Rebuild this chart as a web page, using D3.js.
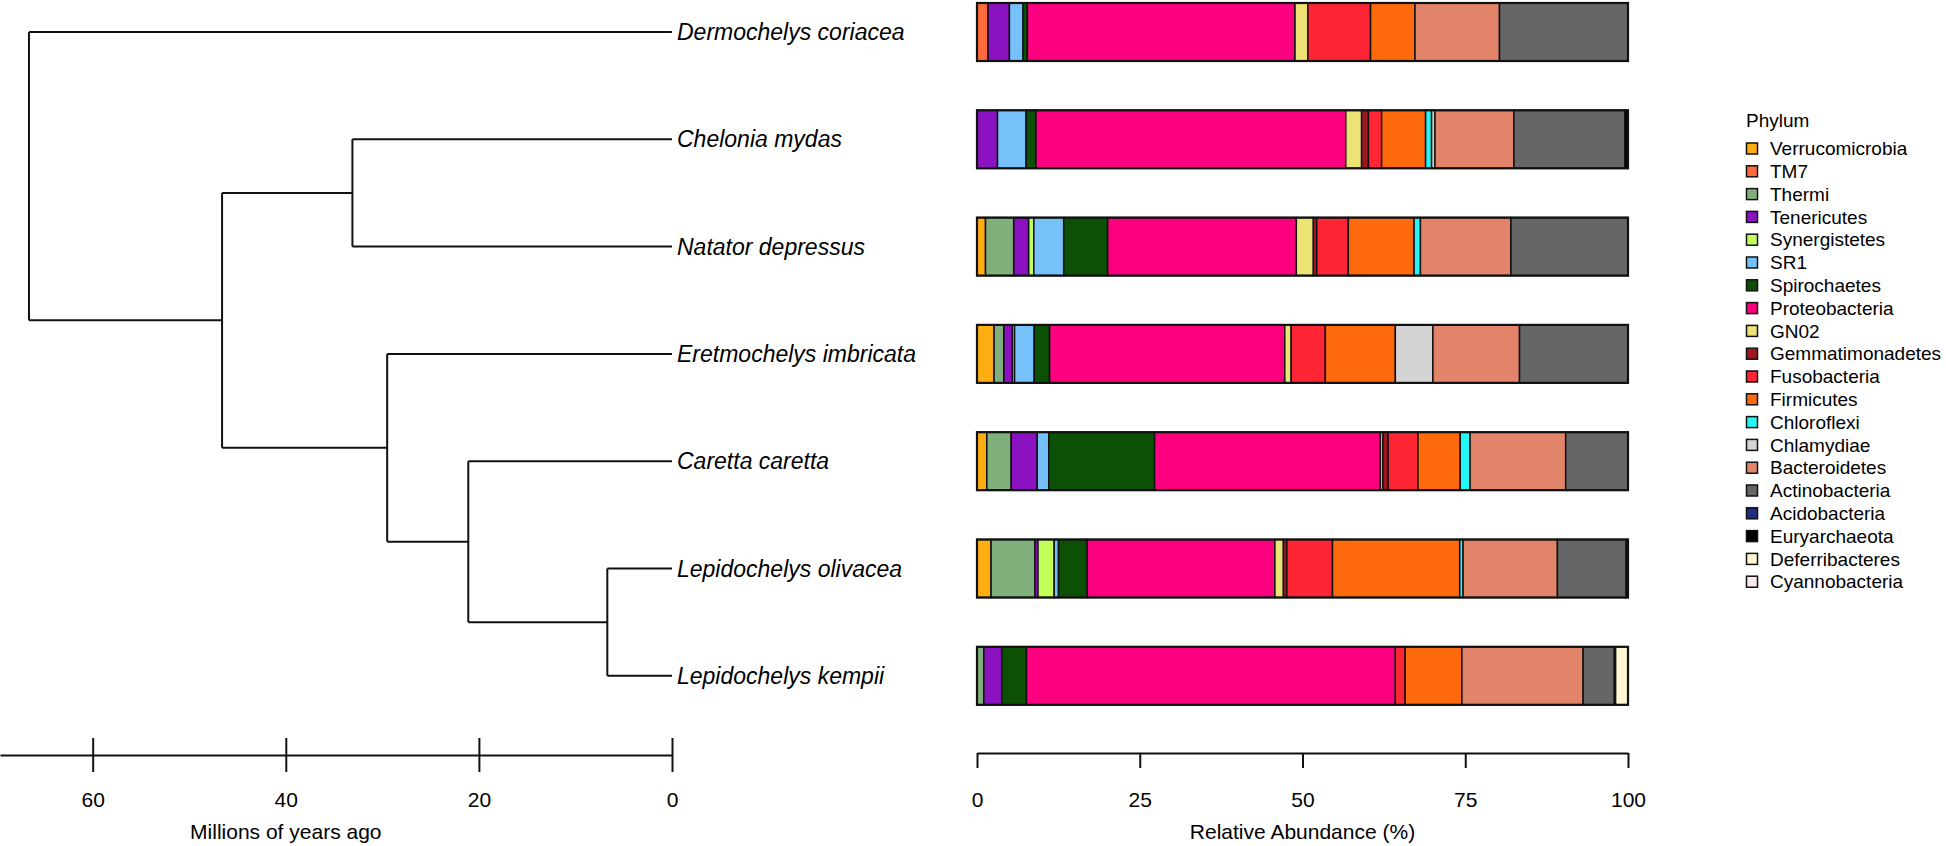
<!DOCTYPE html>
<html>
<head>
<meta charset="utf-8">
<script src="https://cdn.jsdelivr.net/npm/d3@7"></script>
<style>
  html, body { margin: 0; padding: 0; background: #ffffff; }
  svg { display: block; font-family: "Liberation Sans", Arial, Helvetica, sans-serif; }
</style>
</head>
<body>
<svg id="chart" width="1946" height="846"></svg>
<script>
// ---------------- DATA ----------------
const species = [
  "Dermochelys coriacea",
  "Chelonia mydas",
  "Natator depressus",
  "Eretmochelys imbricata",
  "Caretta caretta",
  "Lepidochelys olivacea",
  "Lepidochelys kempii"
];

const phyla = [
  "Verrucomicrobia", "TM7", "Thermi", "Tenericutes", "Synergistetes", "SR1",
  "Spirochaetes", "Proteobacteria", "GN02", "Gemmatimonadetes", "Fusobacteria",
  "Firmicutes", "Chloroflexi", "Chlamydiae", "Bacteroidetes", "Actinobacteria",
  "Acidobacteria", "Euryarchaeota", "Deferribacteres", "Cyannobacteria"
];

const phylumColors = [
  "#FFAE12", "#FF6A3A", "#80B07B", "#8A12C0", "#C3FF5A", "#76C1F9",
  "#0C5005", "#FC0080", "#ECE374", "#A0171F", "#FE2634",
  "#FF6A0C", "#22F7F6", "#D4D4D4", "#E2846A", "#666666",
  "#1E2F80", "#000000", "#FFF7D4", "#FBE9EF"
];

// relative abundance (%) per species, in phyla order
const dermochelysCoriacea   = [0, 1.70, 0, 3.28, 0, 2.10, 0.66, 41.11, 1.97, 0, 9.64, 6.82, 0, 0, 12.98, 19.74, 0, 0, 0, 0];
const cheloniaMydas         = [0, 0, 0, 3.15, 0, 4.39, 1.51, 47.60, 2.43, 1.05, 2.03, 6.75, 0.92, 0.52, 12.13, 17.05, 0, 0.46, 0, 0];
const natatorDepressus      = [1.31, 0, 4.33, 2.30, 0.79, 4.59, 6.75, 28.98, 2.62, 0.52, 4.85, 10.10, 0.98, 0, 13.90, 17.97, 0, 0, 0, 0];
const eretmochelysImbricata = [2.62, 0, 1.51, 1.31, 0.33, 3.02, 2.36, 36.13, 0.98, 0, 5.25, 10.75, 0, 5.77, 13.31, 16.66, 0, 0, 0, 0];
const carettaCaretta        = [1.51, 0, 3.74, 4.00, 0, 1.77, 16.26, 34.69, 0.39, 0.79, 4.59, 6.49, 1.51, 0, 14.69, 9.57, 0, 0, 0, 0];
const lepidochelysOlivacea  = [2.16, 0, 6.75, 0.46, 2.49, 0.66, 4.39, 28.85, 1.31, 0.52, 7.02, 19.54, 0.52, 0, 14.49, 10.56, 0, 0.26, 0, 0];
const lepidochelysKempii    = [0, 0, 1.05, 2.75, 0, 0, 3.80, 56.66, 0, 0, 1.51, 8.72, 0, 0, 18.62, 4.79, 0, 0.20, 1.90, 0];

const abundance = [
  dermochelysCoriacea, cheloniaMydas, natatorDepressus, eretmochelysImbricata,
  carettaCaretta, lepidochelysOlivacea, lepidochelysKempii
];

// phylogeny (ages in millions of years ago)
const nodeNames   = ["root", "Cheloniidae", "CheloniaNatator", "EretmoClade", "CarettaLepido", "Lepidochelys",
                     "Dermochelys coriacea", "Chelonia mydas", "Natator depressus", "Eretmochelys imbricata",
                     "Caretta caretta", "Lepidochelys olivacea", "Lepidochelys kempii"];
const nodeParents = [null, "root", "Cheloniidae", "Cheloniidae", "EretmoClade", "CarettaLepido",
                     "root", "CheloniaNatator", "CheloniaNatator", "EretmoClade",
                     "CarettaLepido", "Lepidochelys", "Lepidochelys"];
const nodeAges    = [66.6, 46.6, 33.1, 29.5, 21.1, 6.7, 0, 0, 0, 0, 0, 0, 0];

const timeTicks = [60, 40, 20, 0];
const abundanceTicks = [0, 25, 50, 75, 100];

// ---------------- LAYOUT ----------------
const svg = d3.select("#chart");
const ink = "#111111";

const yPos = d3.scalePoint().domain(species).range([32, 675.8]);
const barH = 58;

const timeX = d3.scaleLinear().domain([69.6, 0]).range([0, 672]);
const abX = d3.scaleLinear().domain([0, 100]).range([977, 1628]);
const color = d3.scaleOrdinal().domain(phyla).range(phylumColors);

// ---------------- TREE ----------------
const nodes = nodeNames.map((n, i) => ({ id: n, parent: nodeParents[i], age: nodeAges[i] }));
const root = d3.stratify().id(d => d.id).parentId(d => d.parent)(nodes);
root.eachAfter(n => {
  n.x = timeX(n.data.age);
  n.y = n.children ? d3.mean(n.children, c => c.y) : yPos(n.id);
});

const treeG = svg.append("g").attr("fill", "none").attr("stroke", ink).attr("stroke-width", 2);
root.descendants().forEach(n => {
  if (n.children) {
    const ys = n.children.map(c => c.y);
    treeG.append("line")
      .attr("x1", n.x).attr("x2", n.x)
      .attr("y1", d3.min(ys)).attr("y2", d3.max(ys));
  }
  if (n.parent) {
    treeG.append("line")
      .attr("x1", n.parent.x).attr("x2", n.x)
      .attr("y1", n.y).attr("y2", n.y);
  }
});

// tip labels
svg.append("g").selectAll("text").data(root.leaves()).join("text")
  .attr("x", d => d.x + 5)
  .attr("y", d => d.y)
  .attr("dy", "0.35em")
  .attr("font-size", 23)
  .attr("font-style", "italic")
  .attr("fill", "#000")
  .text(d => d.id);

// time axis
const timeAxisG = svg.append("g").attr("transform", "translate(0,755)")
  .call(d3.axisBottom(timeX).tickValues(timeTicks).tickSizeInner(17).tickSizeOuter(0).tickFormat(d3.format("d")));
timeAxisG.select(".domain").attr("stroke", ink).attr("stroke-width", 2);
timeAxisG.selectAll(".tick line").attr("y1", -17).attr("y2", 17).attr("stroke", ink).attr("stroke-width", 2);
timeAxisG.selectAll(".tick text").attr("y", 45).attr("dy", "0.35em").attr("font-size", 21).attr("fill", "#000");

svg.append("text").attr("x", timeX(40)).attr("y", 832).attr("dy", "0.35em")
  .attr("text-anchor", "middle").attr("font-size", 21).attr("fill", "#000")
  .text("Millions of years ago");

// ---------------- BARS ----------------
const barsG = svg.append("g");
species.forEach((sp, si) => {
  const vals = abundance[si];
  let cum = 0;
  const segs = [];
  vals.forEach((v, pi) => {
    if (v > 0) segs.push({ phylum: phyla[pi], x0: cum, x1: cum + v });
    cum += v;
  });
  const g = barsG.append("g");
  g.selectAll("rect").data(segs).join("rect")
    .attr("x", d => abX(d.x0))
    .attr("width", d => Math.max(0, abX(d.x1) - abX(d.x0)))
    .attr("y", yPos(sp) - barH / 2)
    .attr("height", barH)
    .attr("fill", d => color(d.phylum))
    .attr("stroke", ink)
    .attr("stroke-width", 1.5);
  g.append("rect")
    .attr("x", abX(0)).attr("width", abX(100) - abX(0))
    .attr("y", yPos(sp) - barH / 2).attr("height", barH)
    .attr("fill", "none").attr("stroke", ink).attr("stroke-width", 2.2);
});

// abundance axis
const abAxisG = svg.append("g").attr("transform", "translate(0,753)")
  .call(d3.axisBottom(abX).tickValues(abundanceTicks).tickSizeInner(15).tickSizeOuter(0));
abAxisG.select(".domain").attr("stroke", ink).attr("stroke-width", 2);
abAxisG.selectAll(".tick line").attr("stroke", ink).attr("stroke-width", 2);
abAxisG.selectAll(".tick text").attr("y", 47).attr("dy", "0.35em").attr("font-size", 21).attr("fill", "#000");

svg.append("text").attr("x", (abX(0) + abX(100)) / 2).attr("y", 832).attr("dy", "0.35em")
  .attr("text-anchor", "middle").attr("font-size", 21).attr("fill", "#000")
  .text("Relative Abundance (%)");

// ---------------- LEGEND ----------------
const legendG = svg.append("g").attr("transform", "translate(1746,0)");
legendG.append("text").attr("x", 0).attr("y", 120).attr("dy", "0.35em")
  .attr("font-size", 19).attr("fill", "#000").text("Phylum");
const items = legendG.selectAll("g.item").data(phyla).join("g").attr("class", "item")
  .attr("transform", (d, i) => `translate(0,${148.5 + 22.8 * i})`);
items.append("rect")
  .attr("x", 0.5).attr("y", -5.5).attr("width", 11).attr("height", 11)
  .attr("fill", d => color(d)).attr("stroke", ink).attr("stroke-width", 1.5);
items.append("text")
  .attr("x", 24).attr("y", 0).attr("dy", "0.35em")
  .attr("font-size", 19).attr("fill", "#000").text(d => d);
</script>
</body>
</html>
